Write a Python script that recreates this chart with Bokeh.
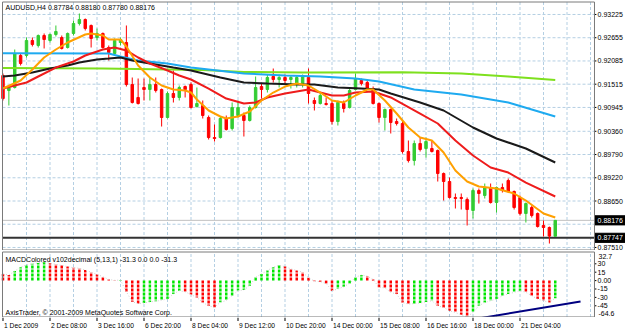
from bokeh.plotting import figure
from bokeh.models import ColumnDataSource, Range1d, Label
from bokeh.layouts import column
from bokeh.embed import file_html
from bokeh.resources import INLINE
from bokeh.core.properties import value

# ---------------- data ----------------
symbol_title = "AUDUSD,H4  0.87784 0.88180 0.87780 0.88176"
macd_title = "MACDColored v102decimal (5,13,1) -31.3 0.0 0.0 -31.3"
copyright_text = "AxisTrader, \u00a9 2001-2009 MetaQuotes Software Corp."

bars = list(range(95))
opens = [0.91728, 0.91360, 0.91434, 0.92219, 0.92219, 0.92587, 0.92464, 0.92709, 0.92587, 0.92734,
         0.92660, 0.92415, 0.92759, 0.93004, 0.93102, 0.92955, 0.92660, 0.92759, 0.92415, 0.92268,
         0.92538, 0.92538, 0.91508, 0.91189, 0.91434, 0.91385, 0.91508, 0.91385, 0.90698, 0.91287,
         0.91189, 0.91458, 0.91508, 0.90968, 0.90992, 0.90698, 0.90207, 0.90207, 0.90674, 0.90428,
         0.90747, 0.90747, 0.90624, 0.90943, 0.91458, 0.91385, 0.91704, 0.91630, 0.91679, 0.91630,
         0.91532, 0.91532, 0.91679, 0.91115, 0.91041, 0.91041, 0.91041, 0.90600, 0.91041, 0.90943,
         0.91385, 0.91606, 0.91557, 0.91409, 0.91041, 0.90698, 0.90894, 0.90600, 0.90551, 0.89864,
         0.89643, 0.90060, 0.89938, 0.89938, 0.89889, 0.89324, 0.89128, 0.88736, 0.88736, 0.88687,
         0.88417, 0.88907, 0.88785, 0.88981, 0.88613, 0.88981, 0.89153, 0.88883, 0.88736, 0.88343,
         0.88490, 0.88343, 0.88049, 0.88000, 0.87784]
highs = [0.91777, 0.91483, 0.92366, 0.92268, 0.92660, 0.92660, 0.92734, 0.92759, 0.92759, 0.92955,
         0.92709, 0.92783, 0.93077, 0.93249, 0.93127, 0.92979, 0.92881, 0.92783, 0.92464, 0.92636,
         0.92660, 0.92955, 0.91679, 0.91655, 0.91655, 0.91679, 0.91679, 0.91409, 0.91336, 0.91851,
         0.91483, 0.91483, 0.91557, 0.91434, 0.91115, 0.90747, 0.90526, 0.90723, 0.90747, 0.91066,
         0.91115, 0.90821, 0.90992, 0.91704, 0.91532, 0.91753, 0.91900, 0.91753, 0.91753, 0.91728,
         0.91728, 0.91753, 0.91900, 0.91189, 0.91287, 0.91189, 0.91115, 0.91115, 0.91115, 0.91409,
         0.91777, 0.91655, 0.91630, 0.91458, 0.91066, 0.90919, 0.90919, 0.90674, 0.90624, 0.90134,
         0.90134, 0.90207, 0.90207, 0.90134, 0.89913, 0.89349, 0.89226, 0.88834, 0.88834, 0.88736,
         0.88956, 0.88956, 0.89079, 0.89079, 0.89005, 0.89079, 0.89202, 0.88907, 0.88785, 0.88613,
         0.88539, 0.88368, 0.88171, 0.88024, 0.88180]
lows = [0.91115, 0.90992, 0.91409, 0.91974, 0.92170, 0.92440, 0.92415, 0.92391, 0.92538, 0.92685,
        0.92366, 0.92391, 0.92709, 0.92955, 0.92832, 0.92415, 0.92587, 0.92391, 0.92096, 0.92219,
        0.92464, 0.91458, 0.91041, 0.91017, 0.91115, 0.91115, 0.91311, 0.90477, 0.90674, 0.91066,
        0.91115, 0.91189, 0.90919, 0.90943, 0.90674, 0.90158, 0.90109, 0.90183, 0.90379, 0.90379,
        0.90698, 0.90232, 0.90600, 0.90919, 0.91164, 0.91311, 0.91557, 0.91434, 0.91532, 0.91409,
        0.91434, 0.91434, 0.91041, 0.90870, 0.91017, 0.90992, 0.90526, 0.90502, 0.90821, 0.90919,
        0.91360, 0.91483, 0.91385, 0.91017, 0.90575, 0.90379, 0.90306, 0.90502, 0.89815, 0.89594,
        0.89521, 0.89864, 0.89717, 0.89839, 0.89128, 0.88662, 0.88711, 0.88466, 0.88441, 0.88049,
        0.88221, 0.88588, 0.88711, 0.88588, 0.88368, 0.88858, 0.88858, 0.88441, 0.88294, 0.88122,
        0.88245, 0.88000, 0.87779, 0.87607, 0.87780]
closes = [0.91164, 0.91434, 0.92268, 0.92023, 0.92587, 0.92489, 0.92709, 0.92611, 0.92734, 0.92808,
          0.92391, 0.92759, 0.93004, 0.93102, 0.92881, 0.92636, 0.92759, 0.92415, 0.92292, 0.92587,
          0.92611, 0.91508, 0.91066, 0.91041, 0.91385, 0.91508, 0.91360, 0.90698, 0.91287, 0.91189,
          0.91434, 0.91385, 0.90943, 0.91041, 0.90747, 0.90207, 0.90183, 0.90674, 0.90404, 0.90943,
          0.90943, 0.90624, 0.90943, 0.91434, 0.91385, 0.91679, 0.91630, 0.91679, 0.91606, 0.91679,
          0.91679, 0.91704, 0.91287, 0.91041, 0.91238, 0.91017, 0.90600, 0.91066, 0.90919, 0.91360,
          0.91655, 0.91532, 0.91409, 0.91041, 0.90698, 0.90894, 0.90575, 0.90551, 0.89864, 0.89643,
          0.90060, 0.89913, 0.90109, 0.89864, 0.89324, 0.89128, 0.88736, 0.88711, 0.88711, 0.88441,
          0.88907, 0.88834, 0.88981, 0.88613, 0.88981, 0.88907, 0.88883, 0.88490, 0.88343, 0.88588,
          0.88294, 0.88024, 0.88000, 0.87790, 0.88176]

# moving averages (bar index, price)
ma200_x = [0, 17, 34, 41, 51, 68, 78, 86, 94]
ma200_y = [0.91912, 0.91900, 0.91863, 0.91814, 0.91802, 0.91809, 0.91777, 0.91704, 0.91618]
ma100_x = [0, 18, 20, 23, 28, 32, 41, 48, 54, 60, 64, 70, 78, 86, 94]
ma100_y = [0.92275, 0.92268, 0.92194, 0.92096, 0.92023, 0.91924, 0.91777, 0.91728, 0.91704,
           0.91655, 0.91581, 0.91385, 0.91262, 0.91066, 0.90723]
ma50_x = [0, 2, 5, 8, 11, 13, 16, 18, 20, 22, 25, 29, 32, 37, 41, 45, 50, 53, 57, 61, 64, 66,
          71, 75, 80, 84, 89, 94]
ma50_y = [0.91704, 0.91728, 0.91802, 0.91900, 0.91974, 0.92047, 0.92121, 0.92145, 0.92170,
          0.92096, 0.92023, 0.91924, 0.91851, 0.91679, 0.91557, 0.91532, 0.91508, 0.91508,
          0.91434, 0.91409, 0.91385, 0.91287, 0.91066, 0.90870, 0.90453, 0.90183, 0.89938, 0.89594]
ma21_x = [0, 4, 6, 9, 12, 14, 17, 19, 21, 23, 25, 28, 30, 32, 35, 38, 41, 43, 45, 48, 50, 52,
          54, 56, 58, 60, 63, 66, 71, 74, 77, 80, 83, 86, 89, 94]
ma21_y = [0.91409, 0.91557, 0.91704, 0.91924, 0.92072, 0.92219, 0.92366, 0.92415, 0.92342,
          0.92170, 0.92023, 0.91851, 0.91728, 0.91630, 0.91409, 0.91164, 0.91041, 0.91066,
          0.91189, 0.91287, 0.91336, 0.91385, 0.91311, 0.91238, 0.91238, 0.91311, 0.91336,
          0.91189, 0.90796, 0.90551, 0.90134, 0.89766, 0.89471, 0.89349, 0.89103, 0.88760]
ma8_x = [0, 3, 5, 7, 9, 11, 14, 15, 17, 18, 20, 21, 23, 25, 27, 29, 31, 32, 33, 35, 37, 38, 40,
         42, 44, 46, 48, 50, 52, 54, 56, 58, 60, 62, 63, 65, 67, 69, 71, 73, 75, 77, 79, 81, 84,
         87, 89, 92, 94]
ma8_y = [0.91409, 0.91606, 0.91875, 0.92170, 0.92366, 0.92538, 0.92734, 0.92759, 0.92709,
         0.92611, 0.92611, 0.92440, 0.91974, 0.91679, 0.91483, 0.91385, 0.91360, 0.91311,
         0.91140, 0.90870, 0.90723, 0.90674, 0.90723, 0.90845, 0.91115, 0.91311, 0.91458,
         0.91532, 0.91483, 0.91311, 0.91115, 0.91066, 0.91238, 0.91385, 0.91385, 0.91115,
         0.90796, 0.90453, 0.90207, 0.90134, 0.89839, 0.89398, 0.89128, 0.89005, 0.88956,
         0.88834, 0.88662, 0.88343, 0.88245]

macd = [12, 10, 17, 24, 28, 30, 31.5, 32.7, 31, 29,
        27, 25, 23, 22, 19, 15, 11, 7, 2, 0.5,
        1, -20, -38, -41, -40, -38, -37, -35, -33, -24,
        -18, -20, -25, -30, -39, -45, -47.6, -38.7, -35.7, -26.8,
        -17.9, -16.7, -9, 6, 12, 18, 24, 27, 25, 21,
        18, 15, 5, -1, -2, -5, -18, -15, -11, -5,
        6, 10, 8, 2, -12, -13, -21, -24, -39, -42,
        -41, -40, -38, -36, -45, -48, -54, -57, -61, -64.6,
        -57, -45, -39, -36, -33, -27, -24, -21, -18, -21,
        -27, -33, -36, -39, -31.3]

trend_x = [80.9, 98.3]
trend_y = [-67.7, -37.3]

price_ticks = [0.93225, 0.92655, 0.92085, 0.91515, 0.90945, 0.90360, 0.89790, 0.89220,
               0.88650, 0.88080, 0.87510]
price_tick_labels = ["0.93225", "0.92655", "0.92085", "0.91515", "0.90945", "0.90360",
                     "0.89790", "0.89220", "0.88650", "", "0.87510"]
macd_ticks = [30, 15, 0, -15, -30, -45]
macd_tick_labels = ["30", "15", "0.00", "-15", "-30", "-45"]
macd_max_label = "32.7"
macd_min_label = "-64.6"
bid_price = 0.88176
hline_price = 0.87747

time_tick_bars = [0, 8, 16, 24, 32, 40, 48, 56, 64, 72, 80, 88]
time_tick_labels = ["1 Dec 2009", "2 Dec 08:00", "3 Dec 16:00", "6 Dec 20:00", "8 Dec 04:00",
                    "9 Dec 12:00", "10 Dec 20:00", "14 Dec 00:00", "15 Dec 08:00",
                    "16 Dec 16:00", "18 Dec 00:00", "21 Dec 04:00"]
grid_bars = list(range(4, 101, 4))

# ---------------- layout / style constants ----------------
FONT = "Liberation Sans"
FS = "7px"
FS_TIME = "6.7px"
BULL = "#33cc33"
BEAR = "#ff0000"
MBULL = "#00e600"
GRIDC = "#b4cfe3"
BORDER = "#7a7a7a"

X_LEFT, X_RIGHT = -0.4255, 105.957       # whole canvas width in bar units
WIN_L, WIN_R = -0.085, 100.68            # chart window border
AX_TEXT = 101.2                          # axis label start
TICK_END = 101.0

PY_LO, PY_HI = 0.87436, 0.93568          # main window vertical extent
PWIN_TOP, PWIN_BOT = 0.93531, 0.87448
BOX_H = 0.00112

MY_LO, MY_HI = -65.9, 53.75              # macd window vertical extent
MWIN_TOP, MWIN_BOT = 51.07, -65.0

x_range = Range1d(X_LEFT, X_RIGHT)


def make_fig(h, yr):
    f = figure(width=625, height=h, x_range=x_range, y_range=yr,
               output_backend="svg", toolbar_location=None,
               x_axis_location=None, y_axis_location=None,
               min_border_left=0, min_border_right=0,
               min_border_top=0, min_border_bottom=0)
    f.outline_line_color = None
    f.xgrid.visible = False
    f.ygrid.visible = False
    f.background_fill_color = "white"
    f.border_fill_color = "white"
    return f


def window(f, top, bot, yticks, ylabels, grid_h):
    n = len(grid_bars)
    f.segment(x0=grid_bars, y0=[bot] * n, x1=grid_bars, y1=[top] * n,
              line_color=GRIDC, line_width=1, line_dash="3 2")
    m_ = len(yticks)
    if grid_h:
        f.segment(x0=[WIN_L] * m_, y0=yticks, x1=[WIN_R] * m_, y1=yticks,
                  line_color=GRIDC, line_width=1, line_dash="3 2")
    f.segment(x0=[WIN_R] * m_, y0=yticks, x1=[TICK_END] * m_, y1=yticks,
              line_color="black", line_width=1)
    f.text(x=[AX_TEXT] * m_, y=yticks, text=ylabels, text_font=value(FONT),
           text_font_size=FS, text_align="left", text_baseline="middle", text_color="black")


# ---------------- main window ----------------
p = make_fig(250, Range1d(PY_LO, PY_HI))
window(p, PWIN_TOP, PWIN_BOT, price_ticks, price_tick_labels, True)

p.segment(x0=[WIN_L], y0=[bid_price], x1=[WIN_R], y1=[bid_price], line_color="#c0c0c0", line_width=1)
p.segment(x0=[WIN_L], y0=[hline_price], x1=[WIN_R], y1=[hline_price], line_color="#333333", line_width=2)

bull_idx = [i for i in bars if closes[i] >= opens[i]]
bear_idx = [i for i in bars if closes[i] < opens[i]]


def cds(idx):
    return ColumnDataSource(dict(
        x=[bars[i] for i in idx],
        h=[highs[i] for i in idx],
        l=[lows[i] for i in idx],
        top=[max(opens[i], closes[i]) for i in idx],
        bot=[min(opens[i], closes[i]) for i in idx]))


for idx, col in ((bull_idx, BULL), (bear_idx, BEAR)):
    s = cds(idx)
    p.segment(x0="x", y0="h", x1="x", y1="l", source=s, line_color=col, line_width=1)
    p.vbar(x="x", width=0.42, top="top", bottom="bot", source=s,
           fill_color=col, line_color=col, line_width=1)

p.line(ma200_x, ma200_y, line_color="#7ee01e", line_width=2)
p.line(ma100_x, ma100_y, line_color="#1eaaf0", line_width=2)
p.line(ma50_x, ma50_y, line_color="#1a1a1a", line_width=2)
p.line(ma21_x, ma21_y, line_color="#ee1c1c", line_width=2)
p.line(ma8_x, ma8_y, line_color="#ffa000", line_width=2)

# current-price boxes on the price scale
box_prices = [bid_price, hline_price]
p.quad(left=[WIN_R + 0.05] * 2, right=[X_RIGHT] * 2,
       top=[v + BOX_H for v in box_prices], bottom=[v - BOX_H for v in box_prices],
       fill_color="black", line_color="black")
p.text(x=[AX_TEXT] * 2, y=box_prices, text=[f"{v:.5f}" for v in box_prices],
       text_font=value(FONT), text_font_size=FS, text_align="left",
       text_baseline="middle", text_color="white")

# window border
p.quad(left=[WIN_L], right=[WIN_R], top=[PWIN_TOP], bottom=[PWIN_BOT],
       fill_color=None, line_color=BORDER, line_width=1)

p.add_layout(Label(x=5, y=243, x_units="screen", y_units="screen", text=symbol_title,
                   text_font=FONT, text_font_size=FS, text_color="black",
                   text_baseline="middle"))

# ---------------- MACD window ----------------
m = make_fig(67, Range1d(MY_LO, MY_HI))
window(m, MWIN_TOP, MWIN_BOT, macd_ticks, macd_tick_labels, False)

mcol = [BEAR if (i == 0 or macd[i] < macd[i - 1]) else MBULL for i in bars]
msrc = ColumnDataSource(dict(x=bars, top=macd, bottom=[0] * len(bars), c=mcol))
m.segment(x0="x", y0="bottom", x1="x", y1="top", source=msrc,
          line_color="c", line_width=2.5, line_dash="3 1")
m.line(bars, macd, line_color="#d0d0d0", line_width=1, line_dash="1 2")
m.line(trend_x, trend_y, line_color="#000080", line_width=2)

m.quad(left=[WIN_L], right=[WIN_R], top=[MWIN_TOP], bottom=[MWIN_BOT],
       fill_color=None, line_color=BORDER, line_width=1)

m.add_layout(Label(x=5, y=58, x_units="screen", y_units="screen", text=macd_title,
                   text_font=FONT, text_font_size=FS, text_color="black", text_baseline="middle"))
m.add_layout(Label(x=5, y=5, x_units="screen", y_units="screen", text=copyright_text,
                   text_font=FONT, text_font_size=FS, text_color="black", text_baseline="middle"))
m.add_layout(Label(x=598, y=61, x_units="screen", y_units="screen", text=macd_max_label,
                   text_font=FONT, text_font_size=FS, text_color="black", text_baseline="middle"))
m.add_layout(Label(x=598, y=4, x_units="screen", y_units="screen", text=macd_min_label,
                   text_font=FONT, text_font_size=FS, text_color="black", text_baseline="middle"))

# ---------------- time axis strip ----------------
t = make_fig(14, Range1d(0, 14))
nt = len(time_tick_bars)
t.segment(x0=time_tick_bars, y0=[14] * nt, x1=time_tick_bars, y1=[10.5] * nt,
          line_color="black", line_width=1)
t.text(x=time_tick_bars, y=[6.5] * nt, text=time_tick_labels,
       text_font=value(FONT), text_font_size=FS_TIME, text_align="left",
       text_baseline="middle", text_color="black", x_offset=1)

layout = column(p, m, t, spacing=0)
open("out.html", "w").write(file_html(layout, INLINE))
